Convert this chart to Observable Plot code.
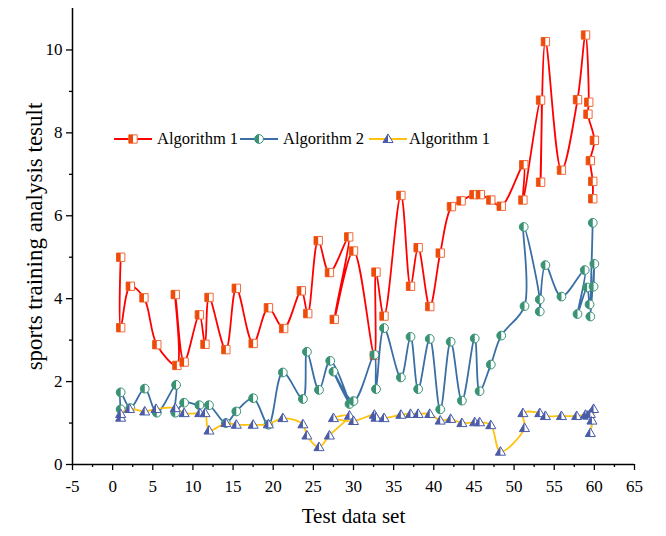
<!DOCTYPE html>
<html>
<head>
<meta charset="utf-8">
<script src="https://cdn.jsdelivr.net/npm/d3@7"></script>
<script src="https://cdn.jsdelivr.net/npm/@observablehq/plot@0.6"></script>
<style>
  body { margin: 0; background: #fff; }
  #wrap { position: relative; width: 666px; height: 536px; font-family: "Liberation Serif", "Times New Roman", serif; }
  .leg { position: absolute; top: 129px; display: flex; align-items: center; font-size: 16.5px; color: #000; white-space: nowrap; }
  .leg svg { display: block; }
</style>
</head>
<body>
<div id="wrap"></div>
<script>
// ---- data ----
const seriesNames = ["Algorithm 1", "Algorithm 2", "Algorithm 1"];

const redX = [1.0,1.0,2.2,3.9,5.5,8.0,7.8,8.9,10.8,11.5,12.0,14.1,15.4,17.5,19.4,21.3,23.5,24.3,25.6,27.0,29.4,27.6,30.0,32.6,32.8,33.8,35.9,37.1,38.05,39.5,40.8,42.2,43.4,45.0,45.8,47.1,48.4,51.2,51.1,53.3,53.3,53.9,55.9,57.9,58.9,59.3,59.2,60.0,59.5,59.8,59.8];
const redY = [5.0,3.3,4.3,4.02,2.89,2.39,4.1,2.47,3.61,2.9,4.03,2.77,4.25,2.92,3.78,3.28,4.19,3.64,5.4,4.63,5.49,3.5,5.15,2.63,4.64,3.58,6.49,4.3,5.23,3.81,5.1,6.22,6.36,6.51,6.51,6.38,6.23,7.23,6.38,8.79,6.81,10.2,7.1,8.8,10.36,8.74,8.45,7.82,7.33,6.83,6.41];

const blueX = [1.0,1.0,2.2,4.0,5.5,7.9,7.8,8.9,10.8,12.0,14.1,15.4,17.5,19.4,21.2,23.7,24.2,25.7,27.1,29.5,27.5,30.0,32.6,32.8,33.8,35.9,37.1,38.05,39.5,40.8,42.1,43.5,45.1,45.7,47.1,48.4,51.3,51.2,53.2,53.2,53.9,55.9,58.8,57.9,59.1,59.4,59.8,59.5,60.0,59.9];
const blueY = [1.33,1.74,1.36,1.83,1.25,1.92,1.25,1.49,1.43,1.43,1.0,1.28,1.6,0.96,2.22,1.58,2.72,1.8,2.5,1.46,2.24,1.53,2.65,1.82,3.29,2.1,3.08,1.82,3.03,1.33,2.96,1.54,3.04,1.77,2.41,3.11,3.82,5.73,3.98,3.69,4.81,4.05,4.69,3.63,4.27,3.86,5.83,3.57,4.84,4.29];

const yelX = [1.0,1.0,2.1,4.0,5.4,7.8,8.9,10.85,11.5,12.0,14.1,15.4,17.5,19.4,21.2,23.7,24.2,25.7,27.0,29.5,27.5,30.0,32.6,32.8,33.8,35.9,37.1,38.05,39.5,40.8,42.1,43.5,45.1,45.7,47.1,48.3,51.3,51.1,53.2,53.9,55.9,57.8,58.9,59.2,59.9,59.5,59.7,59.5];
const yelY = [1.13,1.22,1.34,1.28,1.34,1.36,1.24,1.24,1.24,0.82,1.0,0.96,0.96,0.97,1.12,0.97,0.7,0.42,0.7,1.18,1.12,1.05,1.2,1.13,1.12,1.2,1.22,1.22,1.22,1.06,1.1,1.0,1.02,1.02,0.95,0.31,0.88,1.24,1.24,1.17,1.17,1.17,1.2,1.18,1.34,0.76,1.06,1.22];

const xMajor = d3.range(-5, 66, 5);
const xMinor = d3.range(-2.5, 65, 5);
const yMajor = [0, 2, 4, 6, 8, 10];
const yMinor = [1, 3, 5, 7, 9];

// ---- symbols ----
const rad = (size) => Math.sqrt(size / Math.PI);
function squareSym(half) {
  return { draw(ctx, size) { const h = rad(size);
    ctx.moveTo(-h, -h); ctx.lineTo(half ? 0 : h, -h); ctx.lineTo(half ? 0 : h, h); ctx.lineTo(-h, h); ctx.closePath(); } };
}
function circleSym(half) {
  return { draw(ctx, size) { const r = rad(size);
    if (half) { ctx.moveTo(0, -r); ctx.arc(0, 0, r, -Math.PI / 2, Math.PI / 2, true); ctx.closePath(); }
    else { ctx.moveTo(r, 0); ctx.arc(0, 0, r, 0, 2 * Math.PI); ctx.closePath(); } } };
}
function triSym(half) {
  return { draw(ctx, size) { const r = rad(size) * 1.15;
    const top = -r, bot = r * 0.7, w = r * 1.0;
    ctx.moveTo(0, top); if (!half) ctx.lineTo(w, bot); else ctx.lineTo(0, bot); ctx.lineTo(-w, bot); ctx.closePath(); } };
}

const styles = [
  { line: "#ff0000", mark: "#ee4a0a", edge: "#f26a3a", full: squareSym(false), half: squareSym(true), r: 4.2 },
  { line: "#3a6ea5", mark: "#3a9275", edge: "#3a9275", full: circleSym(false), half: circleSym(true), r: 4.4 },
  { line: "#ffc20e", mark: "#4a5ba8", edge: "#4a5ba8", full: triSym(false), half: triSym(true), r: 4.4 }
];

const series = [
  redX.map((x, i) => ({ x, y: redY[i] })),
  blueX.map((x, i) => ({ x, y: blueY[i] })),
  yelX.map((x, i) => ({ x, y: yelY[i] }))
];

const marks = [];
series.forEach((data, k) => {
  const s = styles[k];
  marks.push(Plot.line(data, { x: "x", y: "y", curve: "catmull-rom", stroke: s.line, strokeWidth: 1.8 }));
  marks.push(Plot.dot(data, { x: "x", y: "y", symbol: s.full, r: s.r, fill: "white", stroke: s.edge, strokeWidth: 1 }));
  marks.push(Plot.dot(data, { x: "x", y: "y", symbol: s.half, r: s.r, fill: s.mark, stroke: "none" }));
});

const chart = Plot.plot({
  width: 666, height: 536,
  marginLeft: 72, marginRight: 32, marginTop: 8, marginBottom: 72,
  style: { fontFamily: '"Liberation Serif", "Times New Roman", serif', background: "white", color: "#000" },
  x: { domain: [-5, 65] },
  y: { domain: [0, 11] },
  marks: [
    Plot.axisX(xMajor, { tickSize: 6, tickPadding: 9, fontSize: 17, label: null, tickFormat: (d) => String(d), stroke: "#000", strokeWidth: 1.3 }),
    Plot.axisX(xMinor, { tickSize: 3, tickFormat: () => "", label: null, stroke: "#000", strokeWidth: 1.3 }),
    Plot.axisY(yMajor, { tickSize: 6, tickPadding: 4, fontSize: 17, label: null, tickFormat: (d) => String(d), stroke: "#000", strokeWidth: 1.3 }),
    Plot.axisY(yMinor, { tickSize: 3, tickFormat: () => "", label: null, stroke: "#000", strokeWidth: 1.3 }),
    Plot.ruleX([-5], { stroke: "#000", strokeWidth: 1.5 }),
    Plot.ruleY([0], { stroke: "#000", strokeWidth: 1.5 }),
    ...marks,
    Plot.text(["sports training analysis tesult"], { frameAnchor: "left", textAnchor: "middle", lineAnchor: "middle", dx: -38, rotate: -90, fontSize: 23, fill: "#000" }),
    Plot.text(["Test data set"], { frameAnchor: "bottom", textAnchor: "middle", dy: 58, fontSize: 21, fill: "#000" })
  ]
});

const wrap = document.getElementById("wrap");
wrap.appendChild(chart);

// ---- legend (HTML overlay) ----
const legLeft = [114, 240, 369];
const legGap = [5, 5, 2];
seriesNames.forEach((name, k) => {
  const s = styles[k];
  const item = document.createElement("div");
  item.className = "leg";
  item.style.left = legLeft[k] + "px";
  const size = s.r * s.r * Math.PI;
  const pf = d3.path(); s.full.draw(pf, size);
  const ph = d3.path(); s.half.draw(ph, size);
  item.innerHTML =
    `<svg width="38" height="20"><line x1="0" x2="38" y1="10" y2="10" stroke="${s.line}" stroke-width="1.8"/>` +
    `<path transform="translate(19,10)" d="${pf}" fill="white" stroke="${s.edge}"/>` +
    `<path transform="translate(19,10)" d="${ph}" fill="${s.mark}"/></svg>` +
    `<span style="margin-left:${legGap[k]}px">${name}</span>`;
  wrap.appendChild(item);
});
</script>
</body>
</html>
